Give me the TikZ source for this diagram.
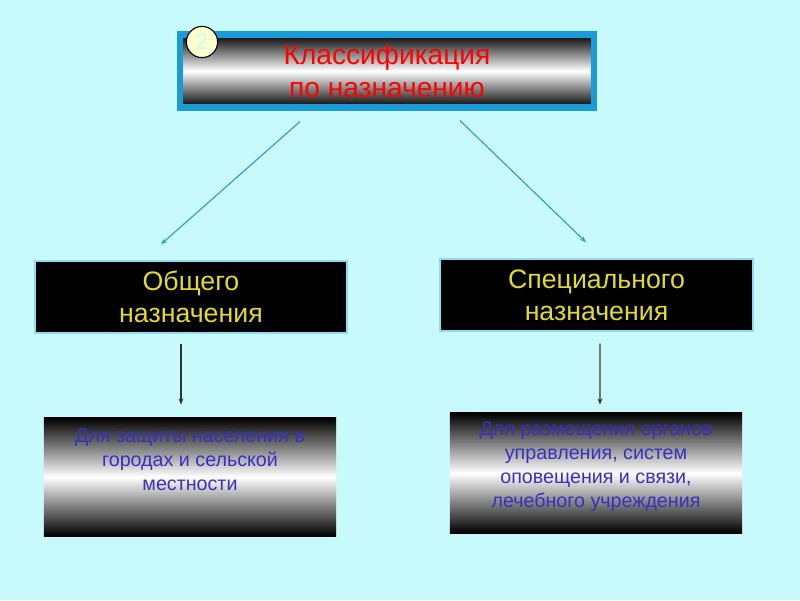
\documentclass[tikz,border=0pt]{standalone}
\usepackage{fontspec}
\setmainfont{Liberation Sans}
\usepackage{tikz}
\usetikzlibrary{calc,arrows.meta,positioning}
\definecolor{bgc}{HTML}{C8FAFC}
\definecolor{framec}{HTML}{1A9AD6}
\definecolor{linec}{HTML}{3399CC}
\definecolor{yelc}{HTML}{E2DC28}
\definecolor{txtblue}{HTML}{3A2FC0}
\definecolor{badgec}{HTML}{FFFFCC}
\tikzset{
  blar/.style={-{Stealth[length=1.6mm,width=1.2mm]},line width=0.8pt,linec},
  dkar/.style={-{Stealth[length=1.6mm,width=1.2mm]},line width=0.8pt,black!80},
  topbox/.style={draw=framec,line width=4.3pt,top color=black,bottom color=black,middle color=white,
    align=center,text=red,font=\fontsize{20}{23}\selectfont,inner sep=0pt},
  midbox/.style={draw=cyan!45,line width=1pt,fill=black,align=center,text=yelc,
    font=\fontsize{19}{23}\selectfont,inner sep=0pt},
  lowbox/.style={top color=black,bottom color=black,middle color=white,inner sep=0pt},
  lowtxt/.style={align=center,text=txtblue,font=\fontsize{14}{17}\selectfont,inner sep=0pt},
  badge/.style={circle,draw=black,line width=0.8pt,fill=badgec,minimum size=0.78cm,inner sep=0pt,
    text=bgc,font=\fontsize{16}{16}\selectfont}
}
\begin{document}
\begin{tikzpicture}[x=0.025cm,y=0.025cm]
\fill[bgc] (0,0) rectangle (800,600);
% top
\node[topbox,minimum width=10.35cm,minimum height=1.825cm] (klass) at (387,529) {Классификация\\по назначению};
\node[badge] (num) at (202,558) {2};
% middle row
\node[midbox,minimum width=7.8cm,minimum height=1.8cm] (gen) at (191,303) {Общего\\назначения};
\node[midbox,minimum width=7.825cm,minimum height=1.8cm] (spec) at (596.5,305) {Специального\\назначения};
% lower row
\node[lowbox,minimum width=7.3cm,minimum height=2.95cm] (lowL) at (190,123) {};
\node[lowbox,minimum width=7.3cm,minimum height=3cm] (lowR) at (596,127) {};
\node[lowtxt,below=0.27cm of lowL.north] (lowLt) {Для защиты населения в\\городах и сельской\\местности};
\node[lowtxt,below=0.22cm of lowR.north] (lowRt) {Для размещения органов\\управления, систем\\оповещения и связи,\\лечебного учреждения};
% arrows
\draw[blar] ($(klass.south)+(-87,-11)$) -- ($(gen.north)+(-30,16)$);
\draw[blar] ($(klass.south)+(73,-10)$) -- ($(spec.north)+(-10.5,16)$);
\draw[dkar] ($(gen.south)+(-10,-10)$) -- ($(lowL.north)+(-9,13)$);
\draw[dkar] ($(spec.south)+(3.5,-12)$) -- ($(lowR.north)+(4,8)$);
\end{tikzpicture}
\end{document}
